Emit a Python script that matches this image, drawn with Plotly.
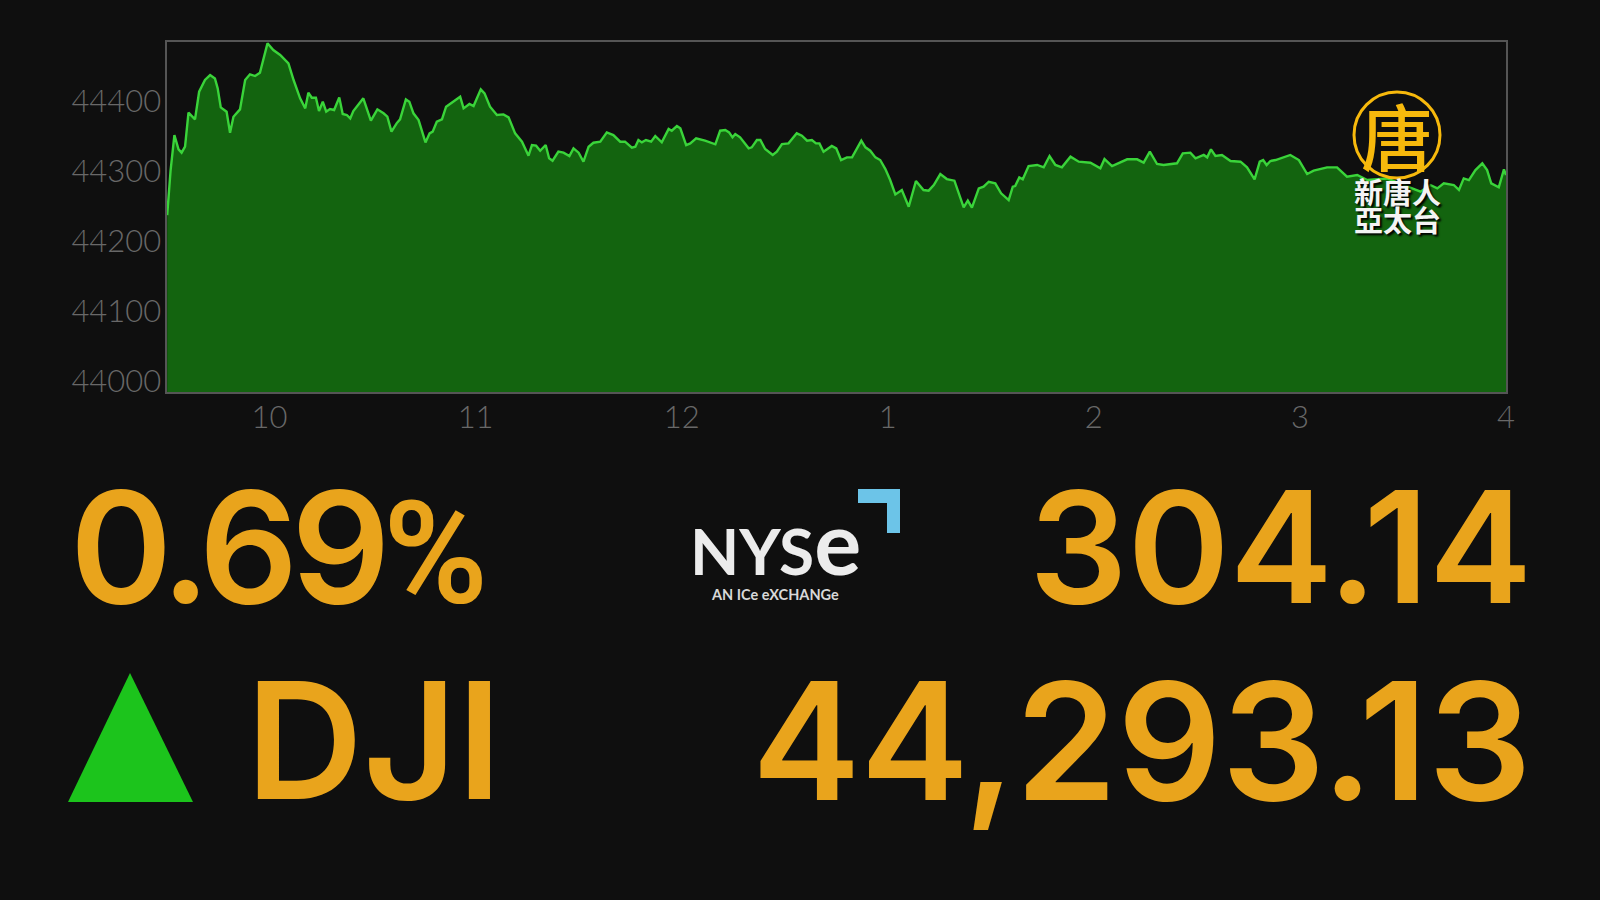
import plotly.graph_objects as go

W, H = 1600, 900

minutes_after_open = [0.2,1.2,2.3,3.5,4.4,5.4,6.4,8.3,9.5,11.2,12.7,14.1,14.9,15.8,17.5,18.5,19.5,21.4,22.9,24.3,25.8,27.2,29.4,31.1,33.1,35.5,37,38.9,40.4,41.3,42.3,43.5,44.4,45.5,46.5,47.6,48.8,50.3,51.3,52.5,53.5,54.4,57.3,59.5,61.4,63.2,64.3,65.5,67,68,69.7,70.7,71.9,73.4,75.4,76.6,77.5,78.7,80.2,81.4,85.5,86.5,88.2,89.4,91.5,92.6,94.2,96.2,98.1,99.6,101.5,103.5,105.4,106.4,107.6,108.8,110.4,111.4,112.4,114.1,115.6,117.3,118.5,120,121.4,122.9,124.3,126.3,
128.2,130.1,132.1,133.5,135.5,136.5,137.4,138.4,139.6,141.1,142.3,144.2,146.2,147.1,148.6,149.6,151.3,152.5,154.2,156.8,159.8,161.2,162.7,163.8,164.8,165.6,167,169.5,170.4,171.9,172.9,174.3,176.5,177.7,179.2,181.1,183.5,185,186.5,187.9,189.1,190.1,191.3,193.7,195,196.4,198.1,199.6,202.3,203.5,204.9,206.4,207.8,209.3,210.7,212.2,214.1,216.1,218.2,220.4,221.9,223.4,225.3,227.2,229.4,232.1,233.3,234.5,236.5,237.9,239.4,241.3,243,245.2,246.4,247.1,248.3,249.3,
251,253.5,255.4,257.1,258.8,260.7,263.2,265.6,269,271.9,273.1,275.3,279.7,282.6,284.5,286.3,288.4,290.3,294.2,295.9,298.1,299.6,302,303,304.1,305.4,307.3,309.8,312.7,314.6,316.8,318.3,319.3,320.3,321.4,322.9,327.2,329.7,332.1,334,337.9,340.8,343.7,346.7,349.6,355.4,360.3,365.1,368,370,371.9,374.8,376.3,377.7,379.2,381.1,383.1,384.5,385.7,387.9,389.4,390]

dji_values = [44252.8,44317.1,44367.1,44346.6,44341.9,44350.4,44399,44389.5,44429,44445.7,44452.8,44448,44433.8,44406.6,44400.4,44370.4,44393.3,44403.8,44445.7,44453.8,44451.4,44456.1,44498.1,44488.5,44481.4,44469.5,44445.7,44419.5,44405.2,44427.6,44420.4,44420.4,44401.4,44414.7,44400.4,44404.2,44402.8,44420.9,44397.1,44395.7,44390.9,44401.4,44419.5,44387.6,44403.8,44398.1,44393.3,44371.9,44383.8,44389.5,44418.1,44414.7,44398.1,44388.5,44356.6,44369.5,44371.9,44386.1,44389.5,44407.6,44421.9,44405.2,44411.4,44408.5,44432.3,44426.6,44407.6,44395.7,44396.6,44392.3,44369.5,44357.6,44337.6,44352.8,44351.9,44344.7,44352.8,44333.8,44330.4,44343.3,44341.9,44337.1,44348.1,44341.9,44329,44350.4,44356.1,44357.6,
44370.9,44367.1,44357.6,44357.6,44349,44350.4,44360,44356.6,44360,44357.6,44365.7,44356.6,44375.7,44373.3,44380,44376.6,44352.8,44355.2,44362.3,44359,44353.8,44373.3,44374.2,44370.9,44363.8,44368.5,44363.8,44348.1,44349.5,44360,44360,44347.1,44338.5,44343.3,44354.2,44355.2,44369.5,44366.1,44359,44360,44355.2,44355.2,44343.3,44351.4,44348.1,44331.4,44335.2,44335.2,44359,44349.5,44344.7,44335.2,44331.4,44318.5,44302.8,44282.3,44288.5,44264.7,44301.4,44288.5,44287.6,44295.7,44311.4,44304.2,44301.9,44263.8,44273.3,44263.3,44290.9,44293.3,44300.4,44298.1,44283.8,44274.2,44293.3,44294.2,44306.6,44303.8,
44322.8,44324.3,44320.9,44337.1,44324.3,44320.9,44336.2,44329,44327.6,44319.5,44332.8,44322.8,44332.4,44332.4,44327.6,44343.3,44325.7,44324.3,44326.7,44340.9,44341.9,44333.8,44338.6,44335.2,44346.7,44337.1,44338.6,44330,44329,44320.9,44303.8,44329,44331.4,44324.3,44330,44331.4,44338.6,44331.4,44311.4,44316.2,44320.9,44320.9,44307.6,44310,44302.8,44305,44295.7,44286.2,44295.7,44290.9,44298.1,44295.7,44288.6,44305.2,44302.8,44317.1,44326.7,44317.1,44298.1,44292.4,44318.1,44310]

x_tick_minutes = [30, 90, 150, 210, 270, 330, 390]
x_tick_labels = ["10", "11", "12", "1", "2", "3", "4"]
y_ticks = [44000, 44100, 44200, 44300, 44400]

pct_value = "0.69"
pct_sign = "%"
point_change = "304.14"
index_name = "DJI"
index_level = "44,293.13"

BG = "#0f0f0f"
ORANGE = "#e9a41c"
GREY = "#686868"
LATIN = "Lato, 'Open Sans', sans-serif"
BIG = "Inter, Lato, sans-serif"
CJK = "'Noto Sans CJK TC', sans-serif"

def px(x):
    return x / W

def py(y):
    return 1 - y / H

fig = go.Figure(go.Scatter(
    x=minutes_after_open, y=dji_values, mode="lines",
    line=dict(color="#3ad43a", width=2.4),
    fill="tozeroy", fillcolor="#13640f", hoverinfo="skip",
))

def text(x, y, s, size, color, anchor="left", family=LATIN, shadow=None, weight=None):
    font = dict(size=size, color=color, family=family)
    if shadow:
        font["shadow"] = shadow
    if weight:
        font["weight"] = weight
    fig.add_annotation(x=px(x), y=py(y), xref="paper", yref="paper", text=s, showarrow=False,
                       xanchor=anchor, yanchor="middle", font=font, borderpad=0, borderwidth=0)

pct_label = (f"<span style='letter-spacing:-7px'>{pct_value}</span>"
             f"<span style='font-family:Roboto;font-size:142px'>{pct_sign}</span>")
text(70, 546, pct_label, 155, ORANGE, family=BIG, weight=600)
text(1532, 546, point_change, 155, ORANGE, "right", family=BIG, weight=600)
text(246, 740, index_name, 162, ORANGE, family=BIG, weight=600)
text(1532, 740, index_level, 163, ORANGE, "right", family=BIG, weight=600)

text(690, 541, "NYS<span style='font-size:88px'>e</span>", 64, "#ececec", weight=700)
text(775, 594, "AN ICe eXCHANGe", 14.5, "#d8d8d8", "center", weight=700)

text(1397, 134, "唐", 72, "#f7b90c", "center", family=CJK, weight=500)
text(1397, 191, "<b>新唐人</b>", 29, "#f4f4f4", "center", family=CJK, shadow="2px 2px 2px #000")
text(1397, 219, "<b>亞太台</b>", 29, "#f4f4f4", "center", family=CJK, shadow="2px 2px 2px #000")

def polygon(points, color):
    d = "M " + " L ".join(f"{px(a):.5f},{py(b):.5f}" for a, b in points) + " Z"
    fig.add_shape(type="path", path=d, xref="paper", yref="paper", fillcolor=color, line_width=0, layer="above")

polygon([(130, 673), (193, 802), (68, 802)], "#1cc41c")
polygon([(858, 489), (900, 489), (900, 533), (887, 533), (887, 503), (858, 503)], "#6cc4e8")
fig.add_shape(type="circle", xref="paper", yref="paper", x0=px(1354), x1=px(1440), y0=py(178), y1=py(92),
              line=dict(color="#f7b90c", width=3), layer="above")

fig.update_layout(
    width=W, height=H, margin=dict(l=0, r=0, t=0, b=0, autoexpand=False),
    paper_bgcolor=BG, plot_bgcolor=BG, showlegend=False,
    xaxis=dict(domain=[px(166.5), px(1506)], range=[0, 390], tickmode="array",
               tickvals=x_tick_minutes, ticktext=x_tick_labels, showgrid=False, zeroline=False,
               ticks="", showline=True, mirror=True, linecolor="#555555", linewidth=2,
               tickfont=dict(size=31, color=GREY, family=LATIN, weight=300), ticklabelstandoff=-3),
    yaxis=dict(domain=[py(392), py(42)], range=[44000, 44500], tickmode="array",
               tickvals=y_ticks, ticktext=[str(v) for v in y_ticks], showgrid=False, zeroline=False,
               ticks="", showline=True, mirror=True, linecolor="#555555", linewidth=2,
               tickfont=dict(size=31, color=GREY, family=LATIN, weight=300), ticklabelshift=-11,
               ticklabelstandoff=-3),
)

fig.write_html("out.html", config={"displayModeBar": False},
               post_script=f"document.body.style.margin='0';document.body.style.background='{BG}';")
